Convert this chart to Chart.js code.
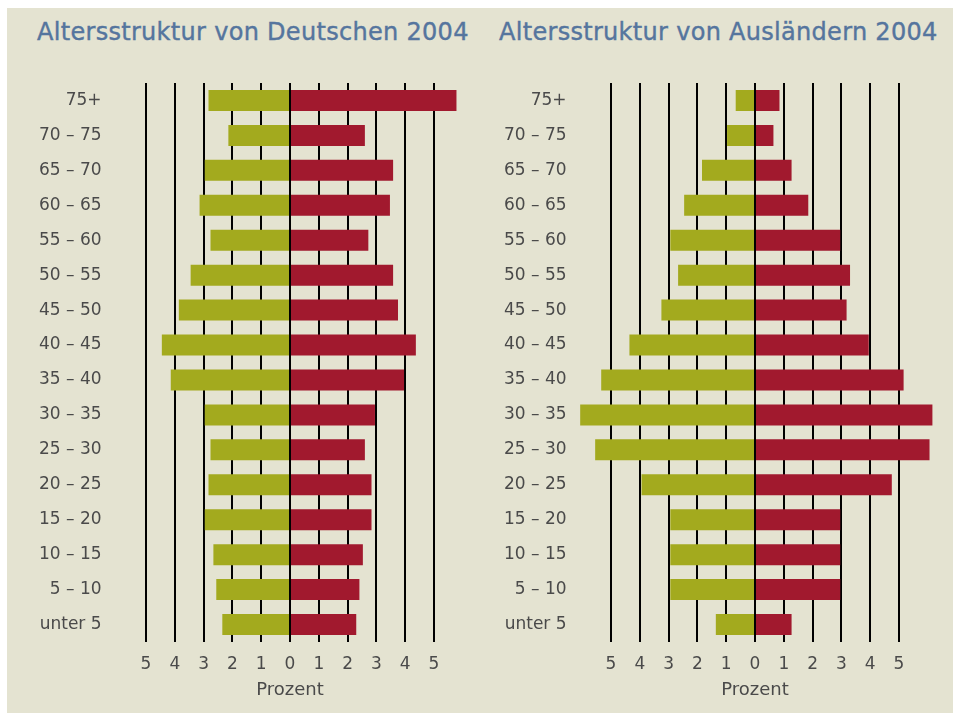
<!DOCTYPE html>
<html>
<head>
<meta charset="utf-8">
<script src="https://cdn.jsdelivr.net/npm/chart.js@4"></script>
<style>
  html, body { margin: 0; padding: 0; background: #ffffff; }
  body { width: 953px; height: 713px; position: relative; overflow: hidden; }
  #panel { position: absolute; left: 7px; top: 8px; right: 0; bottom: 0; background: #e4e3d1; }
  .title {
    position: absolute; top: 20px; font-family: 'DejaVu Sans', sans-serif; font-size: 24px;
    line-height: 24px; color: #55759e; letter-spacing: 0.3px; white-space: nowrap;
    -webkit-text-stroke: 0.4px #55759e;
  }
  canvas { position: absolute; top: 0; }
</style>
</head>
<body>
<div id="panel"></div>
<div class="title" style="left:37px">Altersstruktur von Deutschen 2004</div>
<div class="title" style="left:499px">Altersstruktur von Ausländern 2004</div>
<canvas id="chartDe" width="476" height="713" style="left:0"></canvas>
<canvas id="chartAus" width="477" height="713" style="left:476px"></canvas>
<script>
// age groups, top to bottom
const ageGroups = ['75+', '70 – 75', '65 – 70', '60 – 65', '55 – 60', '50 – 55', '45 – 50', '40 – 45',
  '35 – 40', '30 – 35', '25 – 30', '20 – 25', '15 – 20', '10 – 15', '5 – 10', 'unter 5'];

// Deutsche (Prozent)
const deGreen = [2.83, 2.14, 2.96, 3.14, 2.76, 3.45, 3.86, 4.45, 4.14, 2.96, 2.76, 2.83, 2.96, 2.66, 2.56, 2.35];
const deRed   = [5.78, 2.60, 3.58, 3.47, 2.72, 3.58, 3.75, 4.37, 3.96, 2.95, 2.60, 2.83, 2.83, 2.53, 2.41, 2.30];

// Ausländer (Prozent)
const ausGreen = [0.67, 0.97, 1.84, 2.46, 2.94, 2.67, 3.25, 4.36, 5.34, 6.07, 5.55, 3.94, 2.94, 2.94, 2.94, 1.36];
const ausRed   = [0.85, 0.64, 1.27, 1.85, 2.96, 3.30, 3.18, 3.95, 5.16, 6.16, 6.06, 4.75, 2.96, 2.96, 2.96, 1.27];

const xTicks = [-5, -4, -3, -2, -1, 0, 1, 2, 3, 4, 5];
const axisTitle = 'Prozent';

Chart.defaults.font.family = "'DejaVu Sans', sans-serif";
Chart.defaults.color = '#4a4a4a';

function makePyramid(id, green, red, yWidth, padRight) {
  const ctx = document.getElementById(id).getContext('2d');
  return new Chart(ctx, {
    type: 'bar',
    data: {
      labels: ageGroups,
      datasets: [
        { data: green.map(v => -v), backgroundColor: '#a3aa1e', barPercentage: 0.6, categoryPercentage: 1 },
        { data: red, backgroundColor: '#a1192e', barPercentage: 0.6, categoryPercentage: 1 }
      ]
    },
    options: {
      indexAxis: 'y',
      responsive: false,
      animation: false,
      devicePixelRatio: 1,
      layout: { padding: { top: 83, right: padRight, bottom: 0, left: 0 } },
      plugins: { legend: { display: false }, tooltip: { enabled: false } },
      scales: {
        x: {
          stacked: true,
          min: -6.3,
          max: 6.3,
          z: 1, // grid lines sit on top of the bars
          afterBuildTicks: axis => { axis.ticks = xTicks.map(v => ({ value: v })); },
          afterFit: scale => { scale.height = 71; },
          grid: { color: '#000000', lineWidth: 2, drawTicks: false },
          border: { display: false },
          ticks: {
            padding: 12,
            font: { size: 17 },
            color: '#4a4a4a',
            callback: v => Math.abs(v)
          },
          title: {
            display: true,
            text: axisTitle,
            font: { size: 18 },
            color: '#4a4a4a',
            padding: { top: 0, bottom: 12 }
          }
        },
        y: {
          stacked: true,
          afterFit: scale => { scale.width = yWidth; },
          grid: { display: false, drawTicks: false },
          border: { display: false },
          ticks: { padding: 7, font: { size: 17 }, color: '#4a4a4a' }
        }
      }
    }
  });
}

makePyramid('chartDe', deGreen, deRed, 108.56, 4.56);
makePyramid('chartAus', ausGreen, ausRed, 97.56, 16.56);
</script>
</body>
</html>
